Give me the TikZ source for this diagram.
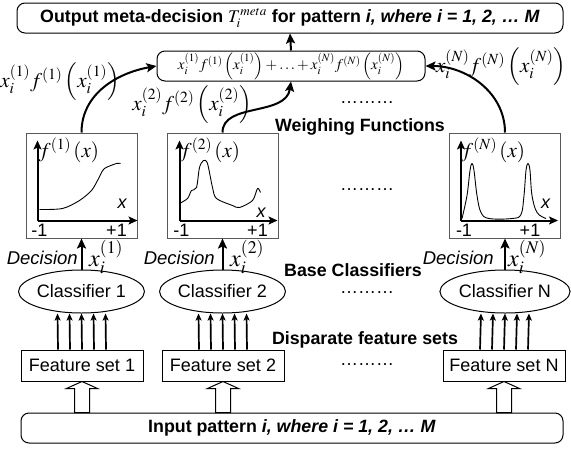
\documentclass[tikz,border=0pt]{standalone}
\usepackage{mathptmx}
\usepackage[no-math]{fontspec}
\setmainfont{Liberation Sans}
\usetikzlibrary{arrows.meta,shapes.geometric}

\newcommand{\fsz}[1]{\fontsize{#1}{#1}\selectfont}

\tikzset{
  txt/.style={font=\fsz{18}, inner sep=0pt},
  head/.style={font=\fsz{17.8}\bfseries, inner sep=0pt},
  mth/.style={font=\fsz{21}, inner sep=0pt},
  roundbox/.style={draw, line width=1pt, rounded corners=8pt, inner sep=0pt, minimum height=30pt},
  plotbox/.style={draw=black!65, line width=1pt, minimum width=111pt, minimum height=105pt, inner sep=0pt},
  featbox/.style={draw, line width=1pt, minimum width=122pt, minimum height=31pt, txt},
  clsnode/.style={ellipse, draw, line width=1pt, minimum width=110pt, minimum height=43pt, txt},
  bigarrow/.style={line width=2pt, -{Stealth[length=10pt,width=9pt,inset=2pt]}},
  smallarrow/.style={line width=1.7pt, -{Stealth[length=7pt,width=6pt,inset=1.5pt]}},
  axis/.style={line width=2pt, -{Stealth[length=9pt,width=8pt,inset=2pt]}},
  fcurve/.style={line width=0.9pt},
  hollow/.style={draw, line width=1pt, fill=white},
}

\begin{document}
\begin{tikzpicture}[x=1pt,y=-1pt]
\useasboundingbox (0,0) rectangle (571,448);

\node[roundbox, minimum width=546pt, head] (out) at (290,18)
  {Output meta-decision $T_i^{meta}$ for pattern \textit{i, where i = 1, 2, … M}};
\node[roundbox, minimum width=268pt, font=\fsz{15}] (sum) at (291,66)
  {$x_i^{(1)} f^{(1)}\left(x_i^{(1)}\right) + \ldots + x_i^{(N)} f^{(N)}\left(x_i^{(N)}\right)$};

\node[mth] (w1) at (60,82) {$x_i^{(1)} f^{(1)}\left(x_i^{(1)}\right)$};
\node[mth] (w2) at (192,105) {$x_i^{(2)} f^{(2)}\left(x_i^{(2)}\right)$};
\node[mth] (wN) at (501,67) {$x_i^{(N)} f^{(N)}\left(x_i^{(N)}\right)$};

\node[txt] (dots1) at (367,103) {………};
\node[head] (weigh) at (360,127) {Weighing Functions};

\begin{scope}[every node/.style={plotbox}]
  \node (p1) at (81.5,185.5) {};
  \node (p2) at (222.5,185.5) {};
  \node (pN) at (505,185.5) {};
\end{scope}
\node[txt] (dots2) at (367,190) {………};

% weighing function plots
\begin{scope}[shift={(p1.south west)}, shift={(12,-18)}]
  \draw[axis] (0,0) -- (0,-80);
  \draw[axis] (0,0) -- (100,0);
  \draw[fcurve] plot[smooth] coordinates {(2,-11) (25,-12) (42,-20) (54,-30) (60,-40) (62,-44) (67,-52) (79,-57) (83,-57)};
  \node[txt] at (2,10) {-1};
  \node[txt] at (79,10) {+1};
  \node[txt] at (85,-17) {\textit{x}};
  \node[mth, anchor=west] at (1,-70) {$f^{(1)}\left(x\right)$};
\end{scope}
\begin{scope}[shift={(p2.south west)}, shift={(13,-18)}]
  \draw[axis] (0,0) -- (0,-80);
  \draw[axis] (0,0) -- (98,0);
  \draw[fcurve] plot[smooth] coordinates {(0,-17) (8,-22) (12,-30) (17,-33) (20,-53) (24,-60) (28,-57) (33,-33) (37,-22) (53,-15) (60,-13) (73,-20) (78,-32) (81,-28)};
  \node[txt] at (2,10) {-1};
  \node[txt] at (78,10) {+1};
  \node[txt] at (82,-8) {\textit{x}};
  \node[mth, anchor=west] at (0,-70) {$f^{(2)}\left(x\right)$};
\end{scope}
\begin{scope}[shift={(pN.south west)}, shift={(12,-18)}]
  \draw[axis] (0,0) -- (0,-80);
  \draw[axis] (0,0) -- (97,0);
  \draw[fcurve] plot[smooth, tension=0.6] coordinates {(1,-2) (6,-25) (9,-50) (11,-57) (13,-50) (16,-25) (20,-8) (28,-2) (51,-2) (60,-6) (63,-25) (65,-50) (67,-57) (69,-50) (71,-25) (76,-8) (85,-2)};
  \node[txt] at (3,10) {-1};
  \node[txt] at (69,10) {+1};
  \node[txt] at (85,-17) {\textit{x}};
  \node[mth, anchor=west] at (0,-70) {$f^{(N)}\left(x\right)$};
\end{scope}

\draw[bigarrow] (p1.north) to[out=90, in=190] (sum.west);
\draw[bigarrow] (p2.north) .. controls +(0,-30) and +(-5,35) .. (sum.south);
\draw[bigarrow] (pN.north) to[out=90, in=0] (sum.east);
\draw[bigarrow] (sum.north) -- (out.south);

\begin{scope}[every node/.style={clsnode}]
  \node (c1) at (81.5,291.5) {Classifier 1};
  \node (c2) at (222.5,291.5) {Classifier 2};
  \node (cN) at (505,291.5) {Classifier N};
\end{scope}
\node[head] (base) at (353,270) {Base Classifiers};
\node[txt] (dots3) at (367,293) {………};

\foreach \c in {1,2,N}
  \draw[bigarrow] (c\c.north) -- (p\c.south);
\node[txt, font=\fsz{18.5}, anchor=east] (d1) at (78,258) {\textit{Decision}};
\node[txt, font=\fsz{18.5}, anchor=east] (d2) at (215,258) {\textit{Decision}};
\node[txt, font=\fsz{18.5}, anchor=east] (dN) at (494,258) {\textit{Decision}};
\node[mth, font=\fsz{24}, anchor=west] (x1) at (89,257) {$x_i^{(1)}$};
\node[mth, font=\fsz{24}, anchor=west] (x2) at (230,257) {$x_i^{(2)}$};
\node[mth, font=\fsz{24}, anchor=west] (xN) at (508,257) {$x_i^{(N)}$};

\begin{scope}[every node/.style={featbox}]
  \node (f1) at (82,365.5) {Feature set 1};
  \node (f2) at (223,365.5) {Feature set 2};
  \node (fN) at (504,365.5) {Feature set N};
\end{scope}
\node[head] (disp) at (365,340) {Disparate feature sets};
\node[txt] (dots4) at (367,365) {………};

\foreach \c in {1,2,N}
  \foreach \dx in {-24,-12,0,12,24}
    \draw[smallarrow] ([xshift=\dx pt]f\c.north) -- ([xshift=\dx pt]c\c.south);

\node[roundbox, minimum width=542pt, head] (in) at (292,428)
  {Input pattern \textit{i, where i = 1, 2, … M}};

\foreach \c in {1,2,N}
  \draw[hollow] (f\c.south) -- ++(15.5,7) -- ++(-8,0) -- ++(0,24) -- ++(-15,0) -- ++(0,-24) -- ++(-8,0) -- cycle;

\end{tikzpicture}
\end{document}
